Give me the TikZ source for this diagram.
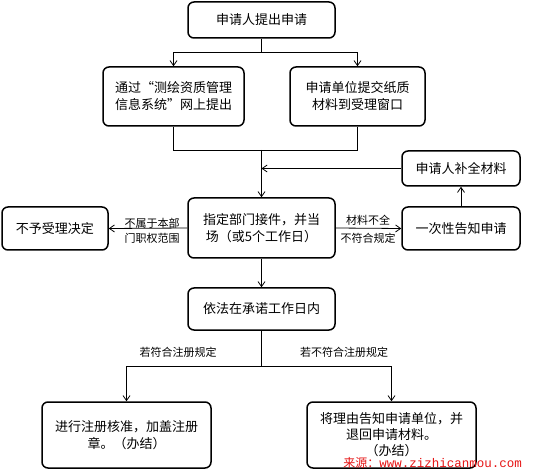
\documentclass[tikz,border=0pt]{standalone}
\usepackage{fontspec}
\usepackage{tikz}
\usetikzlibrary{arrows.meta,positioning}
\newfontfamily\cjk{Noto Sans CJK SC}
\newfontfamily\urlfont{Liberation Mono}
\definecolor{srcred}{RGB}{230,20,20}

\begin{document}
\begin{tikzpicture}[
    x=1pt, y=-1pt,
    >={Straight Barb[length=5pt,width=7pt]},
    box/.style={
        rectangle,
        rounded corners=6pt,
        draw=black,
        line width=1.5pt,
        fill=white,
        inner sep=2pt,
        align=center,
        font=\cjk\fontsize{13}{17}\selectfont
    },
    link/.style={line width=0.8pt},
    tag/.style={font=\cjk\fontsize{11}{15}\selectfont, inner sep=1pt, align=center}
]
\useasboundingbox (0,0) rectangle (554,470);

\node[box, minimum width=147pt, minimum height=36pt] (apply) at (261.5,20) {申请人提出申请};
\node[box, minimum width=141pt, minimum height=59pt] (online) at (173.5,96.5) {通过“测绘资质管理\\信息系统”网上提出};
\node[box, minimum width=135pt, minimum height=59pt] (paper) at (357.5,96.5) {申请单位提交纸质\\材料到受理窗口};
\node[box, minimum width=118pt, minimum height=35pt] (supplement) at (461,168.5) {申请人补全材料};
\node[box, minimum width=147pt, minimum height=60pt] (accept) at (261.5,228) {指定部门接件，并当\\场（或5个工作日）};
\node[box, minimum width=106pt, minimum height=43pt] (reject) at (55,228.5) {不予受理决定};
\node[box, minimum width=118pt, minimum height=43pt] (notify) at (461,228.5) {一次性告知申请};
\node[box, minimum width=147pt, minimum height=42pt] (promise) at (261.5,309) {依法在承诺工作日内};
\node[box, minimum width=169pt, minimum height=66pt] (approve) at (126.5,435) {进行注册核准，加盖注册\\章。（办结）};
\node[box, minimum width=169pt, minimum height=66pt, font=\cjk\fontsize{13}{16}\selectfont] (giveback) at (391.5,435)
    {将理由告知申请单位，并\\退回申请材料。\\（办结）};

\coordinate (split) at (261.5,52);
\coordinate (merge) at (261.5,150);
\coordinate (back) at (261.5,168.5);
\coordinate (fork) at (261.5,366);

\draw[link] (apply) -- (split);
\draw[link,->] (split) -| (online.north);
\draw[link,->] (split) -| (paper.north);
\draw[link] (online.south) |- (merge);
\draw[link] (paper.south) |- (merge);
\draw[link,->] (merge) -- (accept.north);
\draw[link,->] (supplement.west) -- (back);
\draw[link,->] (notify.north) -- (supplement.south);

\draw[link,->] (accept.west) -- (reject.east);
\node[tag] (outside) at (152,231) {不属于本部\\门职权范围};
\draw[link,->] (accept.east) -- (notify.west);
\node[tag] (lack) at (368,220) {材料不全};
\node[tag] (invalid) at (368,238) {不符合规定};

\draw[link,->] (accept.south) -- (promise.north);
\draw[link] (promise.south) -- (fork);
\draw[link,->] (fork) -| (approve.north);
\draw[link,->] (fork) -| (giveback.north);
\node[tag] (yes) at (178,352) {若符合注册规定};
\node[tag] (no) at (344,352) {若不符合注册规定};

\node[text=srcred, inner sep=0pt, anchor=base east] (source) at (522,467)
    {{\cjk\fontsize{12}{14}\selectfont 来源：}{\urlfont\fontsize{12.5}{14}\selectfont www.zizhicanmou.com}};
\end{tikzpicture}
\end{document}
